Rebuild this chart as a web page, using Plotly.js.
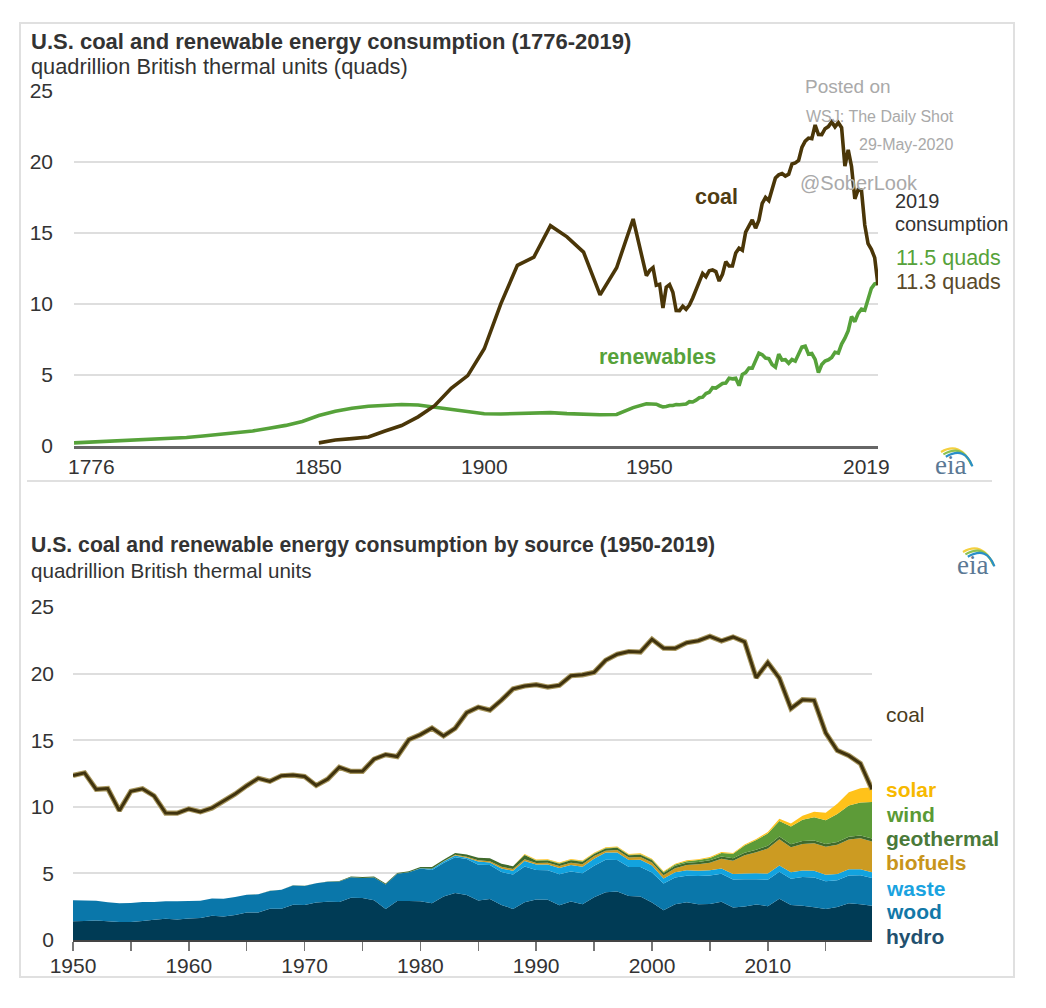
<!DOCTYPE html>
<html>
<head>
<meta charset="utf-8">
<script src="https://cdn.plot.ly/plotly-3.0.1.min.js"></script>
<style>html,body{margin:0;padding:0;background:#fff;}#chart{width:1046px;height:1008px;}</style>
</head>
<body>
<div id="chart"></div>
<script>
// ---------------- DATA ----------------
// Top chart: historical (pre-1950) estimates, quads
const histRenewYears = [1776,1780,1785,1790,1795,1800,1805,1810,1815,1820,1825,1830,1835,1840,1845,1850,1855,1860,1865,1870,1875,1880,1885,1890,1895,1900,1905,1910,1915,1920,1925,1930,1935,1940,1945,1949];
const histRenew = [0.22,0.26,0.31,0.36,0.40,0.46,0.53,0.60,0.70,0.80,0.92,1.06,1.25,1.45,1.72,2.14,2.45,2.66,2.80,2.89,2.92,2.88,2.72,2.55,2.40,2.27,2.25,2.30,2.32,2.35,2.28,2.22,2.20,2.22,2.70,2.97];
const histCoalYears = [1850,1855,1860,1865,1870,1875,1880,1885,1890,1895,1900,1905,1910,1915,1920,1925,1930,1935,1940,1945,1949];
const histCoal = [0.22,0.42,0.52,0.63,1.05,1.44,2.05,2.84,4.06,4.95,6.84,10.00,12.71,13.29,15.50,14.71,13.64,10.63,12.54,15.97,11.98];

// Annual 1950-2019
const years = [1950,1951,1952,1953,1954,1955,1956,1957,1958,1959,1960,1961,1962,1963,1964,1965,1966,1967,1968,1969,1970,1971,1972,1973,1974,1975,1976,1977,1978,1979,1980,1981,1982,1983,1984,1985,1986,1987,1988,1989,1990,1991,1992,1993,1994,1995,1996,1997,1998,1999,2000,2001,2002,2003,2004,2005,2006,2007,2008,2009,2010,2011,2012,2013,2014,2015,2016,2017,2018,2019];
const coal = [12.35,12.55,11.31,11.37,9.71,11.17,11.35,10.82,9.53,9.52,9.84,9.62,9.91,10.41,10.96,11.58,12.14,11.91,12.33,12.38,12.27,11.60,12.08,12.97,12.66,12.66,13.58,13.92,13.77,15.04,15.42,15.91,15.32,15.89,17.07,17.48,17.26,18.01,18.85,19.07,19.17,18.99,19.12,19.84,19.91,20.09,21.00,21.45,21.66,21.62,22.58,21.91,21.90,22.32,22.47,22.80,22.45,22.75,22.39,19.69,20.83,19.66,17.38,18.04,17.99,15.55,14.23,13.84,13.25,11.31];
const renewTotal = [2.977,2.959,2.940,2.832,2.754,2.784,2.851,2.850,2.915,2.901,2.929,2.953,3.118,3.098,3.227,3.398,3.435,3.694,3.777,4.101,4.074,4.268,4.398,4.431,4.768,4.722,4.765,4.247,5.037,5.167,5.488,5.478,6.026,6.532,6.419,6.184,6.140,5.723,5.540,6.453,6.041,6.070,5.820,6.083,5.969,6.554,6.968,7.024,6.462,6.506,6.098,5.159,5.728,5.978,6.065,6.223,6.598,6.540,7.174,7.586,8.112,9.106,8.745,9.334,9.632,9.555,10.233,11.093,11.402,11.460];

const hydro = [1.415,1.424,1.466,1.413,1.360,1.360,1.435,1.516,1.592,1.548,1.608,1.656,1.816,1.771,1.886,2.059,2.062,2.347,2.349,2.648,2.634,2.824,2.864,2.861,3.177,3.155,2.976,2.333,2.937,2.931,2.900,2.758,3.266,3.527,3.386,2.970,3.071,2.635,2.334,2.837,3.046,3.016,2.617,2.892,2.683,3.205,3.590,3.640,3.297,3.268,2.811,2.242,2.689,2.825,2.690,2.703,2.869,2.446,2.511,2.669,2.539,3.103,2.629,2.562,2.467,2.321,2.472,2.767,2.688,2.562];
const wood = [1.562,1.535,1.474,1.419,1.394,1.424,1.416,1.334,1.323,1.353,1.320,1.295,1.300,1.323,1.337,1.335,1.369,1.340,1.419,1.440,1.429,1.432,1.503,1.527,1.538,1.497,1.711,1.837,2.036,2.152,2.476,2.496,2.510,2.684,2.686,2.687,2.562,2.463,2.577,2.680,2.216,2.214,2.313,2.260,2.324,2.370,2.437,2.371,2.184,2.214,2.262,2.006,1.995,2.002,2.121,2.136,2.109,2.098,2.044,1.891,1.986,2.028,1.976,2.172,2.230,2.091,2.014,2.068,2.174,2.092];
const waste = [0,0,0,0,0,0,0,0,0,0,0,0,0,0,0,0,0,0,0,0,0,0,0,0,0,0,0,0,0,0,0.002,0.088,0.111,0.129,0.105,0.236,0.181,0.273,0.288,0.417,0.408,0.440,0.472,0.479,0.499,0.530,0.539,0.562,0.518,0.535,0.511,0.364,0.402,0.401,0.389,0.403,0.397,0.413,0.435,0.452,0.467,0.461,0.487,0.483,0.509,0.490,0.476,0.483,0.455,0.437];
const biofuels = [0,0,0,0,0,0,0,0,0,0,0,0,0,0,0,0,0,0,0,0,0,0,0,0,0,0,0,0,0,0,0,0.013,0.034,0.063,0.077,0.093,0.107,0.123,0.124,0.125,0.111,0.128,0.145,0.169,0.188,0.198,0.141,0.186,0.202,0.211,0.233,0.254,0.308,0.402,0.487,0.564,0.717,0.991,1.372,1.568,1.868,1.967,1.876,1.996,2.059,2.097,2.190,2.226,2.314,2.312];
const geothermal = [0,0,0,0,0,0,0,0,0,0,0.001,0.002,0.002,0.004,0.004,0.004,0.004,0.007,0.009,0.013,0.011,0.012,0.031,0.043,0.053,0.070,0.078,0.077,0.064,0.084,0.110,0.123,0.105,0.129,0.165,0.198,0.219,0.229,0.217,0.317,0.171,0.178,0.179,0.186,0.173,0.152,0.163,0.167,0.168,0.171,0.164,0.164,0.171,0.175,0.178,0.181,0.181,0.186,0.192,0.200,0.208,0.212,0.212,0.214,0.214,0.212,0.210,0.210,0.209,0.209];
const wind = [0,0,0,0,0,0,0,0,0,0,0,0,0,0,0,0,0,0,0,0,0,0,0,0,0,0,0,0,0,0,0,0,0,0,0,0,0,0,0,0.022,0.029,0.031,0.030,0.031,0.036,0.033,0.033,0.034,0.031,0.046,0.057,0.070,0.105,0.115,0.142,0.178,0.264,0.341,0.546,0.721,0.923,1.168,1.340,1.601,1.728,1.777,2.096,2.343,2.482,2.742];
const solar = [0,0,0,0,0,0,0,0,0,0,0,0,0,0,0,0,0,0,0,0,0,0,0,0,0,0,0,0,0,0,0,0,0,0,0,0,0,0,0,0.055,0.060,0.063,0.064,0.066,0.066,0.066,0.065,0.064,0.062,0.061,0.060,0.059,0.058,0.058,0.058,0.058,0.061,0.065,0.074,0.085,0.121,0.167,0.225,0.306,0.425,0.567,0.775,0.996,1.080,1.106];

const topTickYears = [1776,1850,1900,1950,2019];
const bottomTickYears = [1950,1955,1960,1965,1970,1975,1980,1985,1990,1995,2000,2005,2010,2015];
const bottomTickText = ['1950','','1960','','1970','','1980','','1990','','2000','','2010',''];
const sourceNames = ['hydro','wood','waste','biofuels','geothermal','wind','solar'];
const sourceValues = [hydro, wood, waste, biofuels, geothermal, wind, solar];

// ---------------- STYLE ----------------
const W = 1046, H = 1008;
const px = x => x / W;
const py = y => 1 - y / H;
const FONT = 'Liberation Sans, Arial, sans-serif';
const areaColors = {hydro:'#003b55', wood:'#0a77aa', waste:'#12a3df', biofuels:'#cc9b22', geothermal:'#3f6a2c', wind:'#5d9b38', solar:'#ffc21a'};
const labelColors = {hydro:'#22506e', wood:'#1278a8', waste:'#1aa3e0', biofuels:'#c8951c', geothermal:'#4a7a3a', wind:'#5a9a35', solar:'#f7b900'};
const labelY = {solar:789, wind:814, geothermal:838.3, biofuels:862.7, waste:888.3, wood:911.7, hydro:936};
const COAL = '#4a3608';
const GREEN = '#56a23a';

const traces = [];
// top chart
traces.push({x: histRenewYears.concat(years), y: histRenew.concat(renewTotal), xaxis:'x', yaxis:'y', mode:'lines', line:{color:GREEN, width:3.6}, hoverinfo:'skip'});
traces.push({x: histCoalYears.concat(years), y: histCoal.concat(coal), xaxis:'x', yaxis:'y', mode:'lines', line:{color:COAL, width:3.6}, hoverinfo:'skip'});
// bottom chart stacked areas
sourceNames.forEach((n, i) => {
  traces.push({x: years, y: sourceValues[i], xaxis:'x2', yaxis:'y2', stackgroup:'ren', mode:'none', fillcolor: areaColors[n], name:n, hoverinfo:'skip'});
});
traces.push({x: years, y: coal, xaxis:'x2', yaxis:'y2', mode:'lines', line:{color:'#a8975e', width:5.2}, hoverinfo:'skip'});
traces.push({x: years, y: coal, xaxis:'x2', yaxis:'y2', mode:'lines', line:{color:'#40330e', width:3}, hoverinfo:'skip'});

function ann(text, x, y, o) {
  o = o || {};
  return Object.assign({text:text, xref:'paper', yref:'paper', x:px(x), y:py(y), xanchor:o.xa||'left', yanchor:'middle', showarrow:false,
    font:{family:o.family||FONT, size:o.size||21, color:o.color||'#333'}}, o.extra||{});
}
const B = s => '<b>' + s + '</b>';

const annotations = [
  ann(B('U.S. coal and renewable energy consumption (1776-2019)'), 29, 41.7, {size:22, color:'#333'}),
  ann('quadrillion British thermal units (quads)', 29, 66.7, {size:21.8, color:'#333'}),
  ann('Posted on', 803, 86.7, {size:19, color:'#a9a9a9'}),
  ann('WSJ: The Daily Shot', 804, 116, {size:16, color:'#a9a9a9'}),
  ann('29-May-2020', 857, 145, {size:16, color:'#a9a9a9'}),
  ann('@SoberLook', 798, 183.3, {size:20, color:'#a9a9a9'}),
  ann(B('coal'), 716, 197, {xa:'center', size:21.5, color:'#4f3c12'}),
  ann(B('renewables'), 657, 357, {xa:'center', size:21.5, color:GREEN}),
  ann('2019', 893, 200.7, {size:20, color:'#333'}),
  ann('consumption', 893, 224, {size:20, color:'#333'}),
  ann('11.5 quads', 894, 258.3, {size:21.5, color:GREEN}),
  ann('11.3 quads', 894, 281.7, {size:21.5, color:'#5a4a2a'}),
  ann('eia', 950, 465, {xa:'center', size:27, color:'#5b7894', family:'Liberation Serif, DejaVu Serif, serif'}),
  ann(B('U.S. coal and renewable energy consumption by source (1950-2019)'), 29, 545, {size:21.2, color:'#333'}),
  ann('quadrillion British thermal units', 29, 570.7, {size:20.6, color:'#333'}),
  ann('eia', 972, 565, {xa:'center', size:27, color:'#5b7894', family:'Liberation Serif, DejaVu Serif, serif'}),
  ann('coal', 884, 714, {size:21, color:'#4a3c1c'})
];
// top x tick labels (first/last nudged inward like the reference)
const tickShift = {1776:17, 2019:-12};
topTickYears.forEach(yr => {
  annotations.push({text:String(yr), xref:'x', yref:'paper', x:yr, y:py(466.7), xanchor:'center', yanchor:'middle', showarrow:false,
    xshift: tickShift[yr]||0, font:{family:FONT, size:21, color:'#333'}});
});
sourceNames.forEach(n => annotations.push(ann(B(n), 884, labelY[n], {size:21, color:labelColors[n]})));

// eia swoosh
function swoosh(cx, cy) {
  const cols = ['#f4d03f', '#8cc152', '#2a8fc9'];
  return cols.map((c, i) => {
    const o = i * 2.4;
    const p = 'M' + px(cx - 9 + o) + ',' + py(cy - 13 + o) + ' Q' + px(cx + 10 + o) + ',' + py(cy - 24 + o) + ' ' + px(cx + 21 + o * 0.3) + ',' + py(cy - 1 + o * 0.5);
    return {type:'path', xref:'paper', yref:'paper', path:p, line:{color:c, width:2.2}};
  });
}
const shapes = [
  {type:'rect', xref:'paper', yref:'paper', x0:px(20), x1:px(1014), y0:py(977), y1:py(23), line:{color:'#e0e0e0', width:2}},
  {type:'line', xref:'paper', yref:'paper', x0:px(27), x1:px(992), y0:py(481), y1:py(481), line:{color:'#e0e0e0', width:2}}
].concat(swoosh(950, 465), swoosh(972, 565));

const layout = {
  width: W, height: H, margin:{l:0, r:0, t:0, b:0}, paper_bgcolor:'#fff', plot_bgcolor:'#fff', showlegend:false,
  font:{family:FONT, color:'#333'},
  xaxis:{domain:[px(74), px(878)], range:[1776, 2019], anchor:'y', showticklabels:false, ticks:'', showgrid:false, zeroline:false,
    showline:true, linecolor:'#666', linewidth:2.5},
  yaxis:{domain:[py(446), py(90.6)], range:[0, 25], anchor:'x', dtick:5, tick0:0, showgrid:true, gridcolor:'#dedede', gridwidth:2,
    zeroline:false, showline:false, ticks:'', ticklabelstandoff:20, tickfont:{size:21, color:'#333'}},
  xaxis2:{domain:[px(73), px(872)], range:[1950, 2019], anchor:'y2', tickmode:'array', tickvals:bottomTickYears, ticktext:bottomTickText,
    ticks:'outside', ticklen:9, tickwidth:1.5, tickcolor:'#777', showgrid:false, zeroline:false, showline:true, linecolor:'#444', linewidth:2,
    ticklabelstandoff:-3, tickfont:{size:21, color:'#333'}},
  yaxis2:{domain:[py(940), py(607)], range:[0, 25], anchor:'x2', dtick:5, tick0:0, showgrid:true, gridcolor:'#dedede', gridwidth:2,
    zeroline:false, showline:false, ticks:'', ticklabelstandoff:18, tickfont:{size:21, color:'#333'}},
  annotations: annotations,
  shapes: shapes
};
Plotly.newPlot('chart', traces, layout, {staticPlot:true, displayModeBar:false});
</script>
</body>
</html>
